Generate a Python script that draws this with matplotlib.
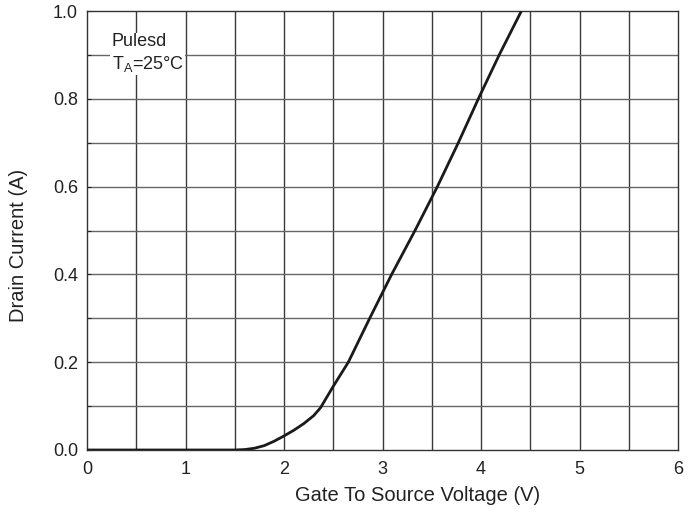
import matplotlib
matplotlib.use("Agg")
import matplotlib.pyplot as plt

plt.rcParams['font.family'] = ['Liberation Sans', 'DejaVu Sans']
plt.rcParams['mathtext.fontset'] = 'custom'
plt.rcParams['mathtext.rm'] = 'Liberation Sans'

vgs = [0.0, 1.5, 1.6, 1.7, 1.8, 1.9, 2.0, 2.1, 2.2, 2.3, 2.37, 2.5, 2.653, 2.87, 3.093, 3.33, 3.557, 3.77, 3.973, 4.185, 4.41]
id_a = [0.0, 0.0, 0.001, 0.004, 0.01, 0.02, 0.032, 0.045, 0.06, 0.078, 0.096, 0.145, 0.2, 0.3, 0.4, 0.5, 0.6, 0.7, 0.8, 0.9, 1.0]

xticks = [0, 1, 2, 3, 4, 5, 6]
yticks = [0.0, 0.2, 0.4, 0.6, 0.8, 1.0]

fig = plt.figure(figsize=(6.98, 5.16), dpi=100)
ax = fig.add_axes([87/698, 66/516, 591/698, 439/516])

for i in range(1, 12):
    ax.axvline(i * 0.5, color='#3a3a3a', lw=1.0, zorder=1)
for i in range(1, 10):
    ax.axhline(i * 0.1, color='#666666', lw=1.0, zorder=1)

ax.plot(vgs, id_a, color='#1a1a1a', lw=2.0, zorder=3, solid_capstyle='butt')

ax.set_xlim(0, 6)
ax.set_ylim(0, 1.0)
ax.set_xticks(xticks)
ax.set_xticklabels([str(t) for t in xticks])
ax.set_yticks(yticks)
ax.set_yticklabels([f"{t:.1f}" for t in yticks])
ax.set_yticks([0.1, 0.3, 0.5, 0.7, 0.9], minor=True)
ax.tick_params(axis='both', which='both', direction='in', length=3, width=0.8, labelsize=13, colors='#222222')
ax.tick_params(axis='y', which='major', pad=6.5)
ax.tick_params(axis='x', which='both', length=0, pad=8)
for s in ax.spines.values():
    s.set_color('#333333')
    s.set_linewidth(1.0)

ax.set_xlabel('Gate To Source Voltage (V)', fontsize=14.5, color='#222222')
ax.xaxis.set_label_coords(0.559, -0.082)
ax.set_ylabel('Drain Current (A)', fontsize=14.5, color='#222222')
ax.yaxis.set_label_coords(-0.099, 0.467)

ax.text(0.042, 0.950, 'Pulesd\nT$_\\mathregular{A}$=25°C', fontsize=13, color='#222222',
        ha='left', va='top', linespacing=1.25, zorder=4, transform=ax.transAxes,
        bbox=dict(facecolor='white', edgecolor='none', pad=1.0))

fig.savefig('out.png', dpi=100)
